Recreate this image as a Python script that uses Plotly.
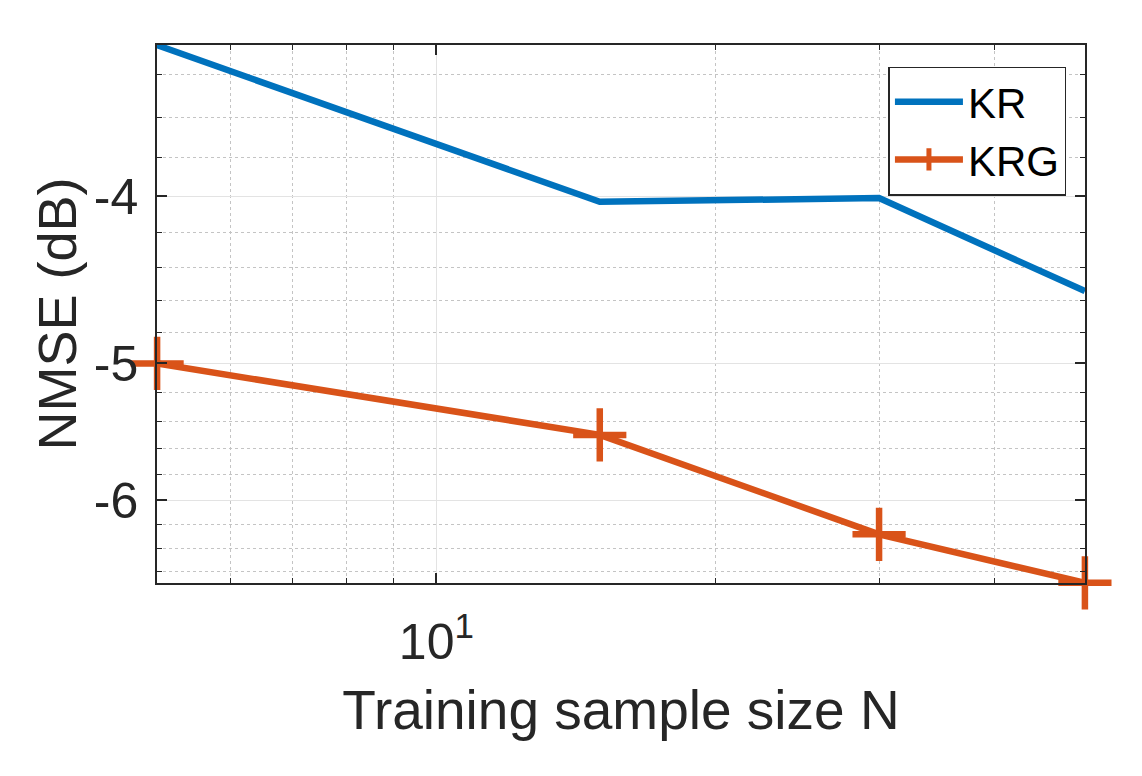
import math
import plotly.graph_objects as go

# Data
N = [5, 15, 30, 50]
KR = [-3.27, -4.03, -4.01, -4.54]
KRG = [-5.00, -5.50, -6.28, -6.70]

y_major = [-4, -5, -6]
y_minor = [-3.4, -3.6, -3.8, -4.2, -4.4, -4.6, -4.8, -5.2, -5.4, -5.6, -5.8, -6.2, -6.4, -6.6]
x_major = [10]
x_major_text = ["10<sup>1</sup>"]
x_minor = [6, 7, 8, 9, 20, 30, 40]

y_top, y_bottom = -3.27, -6.70

FONT = "Liberation Sans, Arial, Helvetica, sans-serif"
AX = "#262626"
EPS = 1e-4

fig = go.Figure()
fig.add_trace(go.Scatter(
    x=N, y=[-v for v in KR], name="KR", mode="lines",
    line=dict(color="#0072BD", width=6.5), cliponaxis=False,
))
fig.add_trace(go.Scatter(
    x=N, y=[-v for v in KRG], name="KRG", mode="lines+markers",
    line=dict(color="#D95319", width=6.5),
    marker=dict(symbol="cross-thin", size=38, color="#D95319",
                line=dict(color="#D95319", width=6.5)),
    cliponaxis=False,
))

fig.update_layout(
    width=1142, height=776,
    margin=dict(l=157, r=57, t=45, b=193),
    paper_bgcolor="white", plot_bgcolor="white",
    font=dict(family=FONT, color=AX),
    showlegend=True,
    legend=dict(
        x=0.98, y=0.96, xanchor="right", yanchor="top",
        bgcolor="white", bordercolor=AX, borderwidth=1.5,
        font=dict(size=42, color="black", family=FONT),
        itemwidth=68, tracegroupgap=0,
    ),
)

fig.update_xaxes(
    type="log",
    range=[math.log10(N[0]) - EPS, math.log10(N[-1]) + EPS],
    tickmode="array", tickvals=x_major, ticktext=x_major_text,
    tickfont=dict(size=50, color=AX),
    ticks="inside", ticklen=10, tickwidth=1.5, tickcolor=AX,
    showline=True, linecolor=AX, linewidth=1.5, mirror="ticks",
    showgrid=True, gridcolor="#e3e3e3", gridwidth=1.2,
    zeroline=False,
    minor=dict(tickmode="array", tickvals=x_minor, ticks="inside", ticklen=5,
               tickcolor=AX, tickwidth=1.2,
               showgrid=True, gridcolor="#c4c4c4", griddash="dot", gridwidth=1.2),
    title=dict(text="Training sample size N", font=dict(size=55, color=AX), standoff=22),
    ticklabelstandoff=14,
)

fig.update_yaxes(
    type="log",
    range=[math.log10(-y_bottom) + EPS, math.log10(-y_top) - EPS],
    tickmode="array", tickvals=[-v for v in y_major], ticktext=[str(v) for v in y_major],
    tickfont=dict(size=50, color=AX),
    ticks="inside", ticklen=10, tickwidth=1.5, tickcolor=AX,
    showline=True, linecolor=AX, linewidth=1.5, mirror="ticks",
    showgrid=True, gridcolor="#e3e3e3", gridwidth=1.2,
    zeroline=False,
    minor=dict(tickmode="array", tickvals=[-v for v in y_minor], ticks="inside", ticklen=5,
               tickcolor=AX, tickwidth=1.2,
               showgrid=True, gridcolor="#c4c4c4", griddash="dot", gridwidth=1.2),
    title=dict(text="NMSE (dB)", font=dict(size=54, color=AX), standoff=0),
    ticklabelstandoff=7,
)

fig.write_html("out.html")
